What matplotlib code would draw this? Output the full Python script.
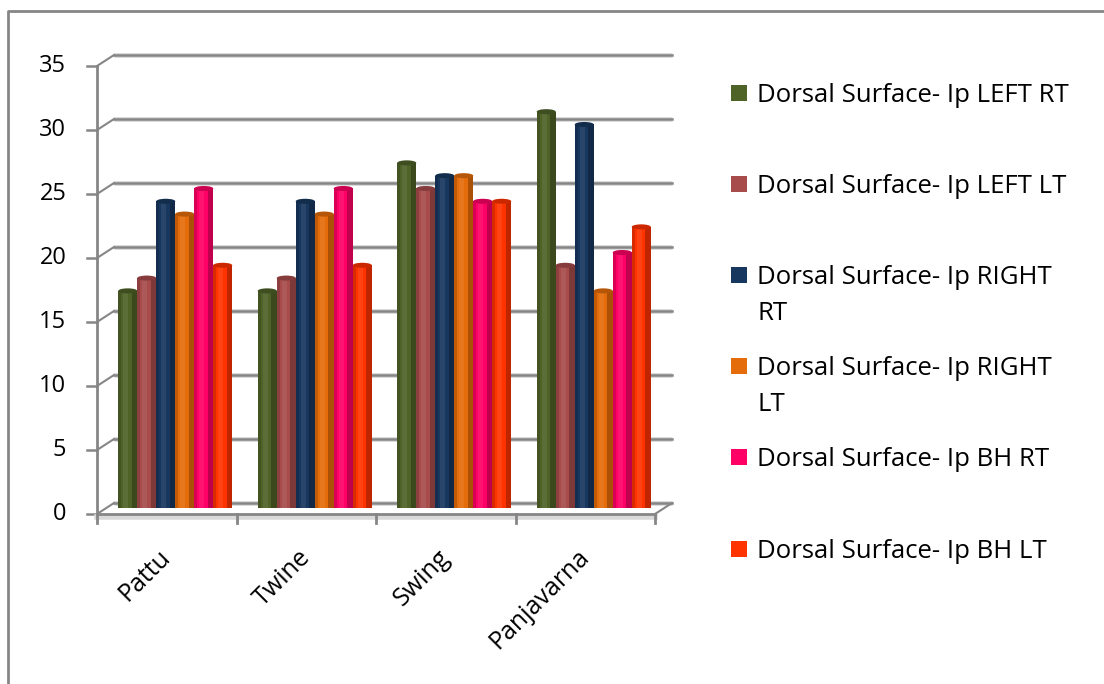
import numpy as np
import matplotlib.pyplot as plt
from matplotlib.patches import Ellipse, Rectangle
from matplotlib.lines import Line2D

plt.rcParams['font.family'] = ['Open Sans', 'DejaVu Sans']

categories = ['Pattu', 'Twine', 'Swing', 'Panjavarna']
series = ['Dorsal Surface- Ip LEFT RT', 'Dorsal Surface- Ip LEFT LT',
          'Dorsal Surface- Ip RIGHT\nRT', 'Dorsal Surface- Ip RIGHT\nLT',
          'Dorsal Surface- Ip BH RT', 'Dorsal Surface- Ip BH LT']
left_rt = [17, 17, 27, 31]
left_lt = [18, 18, 25, 19]
right_rt = [24, 24, 26, 30]
right_lt = [23, 23, 26, 17]
bh_rt = [25, 25, 24, 20]
bh_lt = [19, 19, 24, 22]
values = [left_rt, left_lt, right_rt, right_lt, bh_rt, bh_lt]
colors = ['#4F6228', '#A84B4B', '#17375E', '#E46C0A', '#FF0066', '#FF3300']
yticks = np.arange(0, 36, 5)

W, H = 1104, 684
fig = plt.figure(figsize=(W / 100, H / 100), dpi=100)

# pixel geometry of the front plane
x0_px, px_cat = 97, 139.5
y0_px, px_val = 514, 12.8
xlim = (-0.6, 4.3)
ylim = (-1.0, 36.0)
left = (x0_px + xlim[0] * px_cat) / W
width = (xlim[1] - xlim[0]) * px_cat / W
bottom = 1 - (y0_px - ylim[0] * px_val) / H
height = (ylim[1] - ylim[0]) * px_val / H
ax = fig.add_axes([left, bottom, width, height])
ax.set_xlim(*xlim)
ax.set_ylim(*ylim)
ax.axis('off')

# depth offset of the back wall
dx = 17 / px_cat
dy = 11 / px_val
grid_c = '#868686'

for v in yticks:
    ax.plot([dx, 4 + dx], [v + dy, v + dy], color='#D9D9D9', lw=3.5, zorder=1,
            solid_capstyle='butt')
    ax.plot([dx, 4 + dx], [v + dy, v + dy], color=grid_c, lw=1.8, zorder=2)
    ax.plot([0, dx], [v, v + dy], color=grid_c, lw=1.5, zorder=2)
    ax.plot([-0.07, 0], [v, v], color=grid_c, lw=1.8, zorder=2)
    ax.text(-0.22, v, str(v), ha='right', va='center', fontsize=17)

ax.plot([0, 0], [0, 35], color=grid_c, lw=2, zorder=2)
ax.plot([0, 4], [-0.25, -0.25], color='#D9D9D9', lw=4, zorder=2)
ax.plot([0, 4], [0, 0], color=grid_c, lw=2, zorder=6)
ax.plot([4, 4 + dx], [0, dy], color=grid_c, lw=1.5, zorder=2)
for i in range(5):
    ax.plot([i, i], [0, -0.7], color=grid_c, lw=2, zorder=6)

# cylinder-like columns
bw = 19 / px_cat
base = dy / 2
cap = 5 / px_val
for j, (vals, col) in enumerate(zip(values, colors)):
    for i, v in enumerate(vals):
        xc = i + 0.5 + dx / 2 + (j - 2.5) * bw
        z = 3 + j * 0.01
        ax.bar(xc, v, bottom=base, width=bw, color=col, zorder=z)
        ax.bar(xc + bw * 0.35, v, bottom=base, width=bw * 0.3, color='black',
               alpha=0.25, lw=0, zorder=z)
        ax.bar(xc - bw * 0.42, v, bottom=base, width=bw * 0.16, color='black',
               alpha=0.15, lw=0, zorder=z)
        ax.bar(xc - bw * 0.1, v, bottom=base, width=bw * 0.25, color='white',
               alpha=0.08, lw=0, zorder=z)
        ax.add_patch(Ellipse((xc, v + base), bw, cap, facecolor=col,
                             lw=0, zorder=z))
        ax.add_patch(Ellipse((xc, v + base), bw, cap, facecolor='black',
                             alpha=0.2, lw=0, zorder=z))

for i, name in enumerate(categories):
    ax.text(i + 0.44, -2.4, name, rotation=45, rotation_mode='anchor',
            ha='right', va='top', fontsize=18)

# legend entries, one baseline per row
baselines = [102, 193, 284, 375, 466, 558]
for name, col, yb in zip(series, colors, baselines):
    fig.patches.append(Rectangle((731 / W, 1 - (yb - 1) / H), 16 / W, 16 / H,
                                 transform=fig.transFigure, facecolor=col,
                                 edgecolor='none'))
    for k, line in enumerate(name.split('\n')):
        fig.text(757 / W, 1 - (yb + 36 * k) / H, line, ha='left',
                 va='baseline', fontsize=18.5)

# outer frame (top and left edges)
fig.add_artist(Line2D([8 / W, 8 / W, 1], [0, 1 - 11 / H, 1 - 11 / H],
                      transform=fig.transFigure, color=grid_c, lw=2))

fig.savefig('out.png', dpi=100)
